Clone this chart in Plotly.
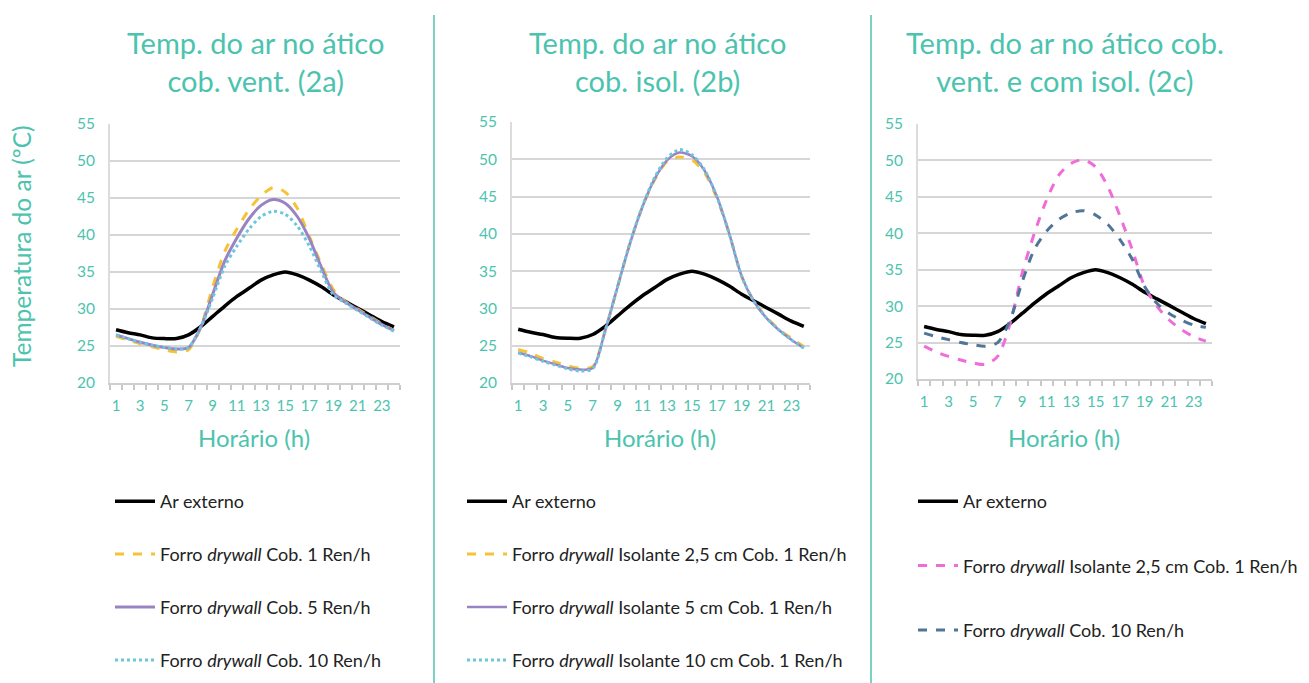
import plotly.graph_objects as go

W, H = 1309, 683
OFF = 8  # page body margin
TEAL = "#4CC3AE"
FONT = "Lato"


def px(x):
    return (x - OFF) / W


def py(y):
    return 1 - (y - OFF) / H


hours = list(range(1, 25))
xtick_vals = list(range(1, 24, 2))
xtick_text = [str(v) for v in xtick_vals]
ytick_vals = [20, 25, 30, 35, 40, 45, 50, 55]

ar_externo = [27.2, 26.8, 26.5, 26.1, 26.0, 26.0, 26.5, 27.6, 29.0, 30.4, 31.7, 32.8,
              33.9, 34.6, 35.0, 34.6, 33.9, 33.0, 31.9, 31.0, 30.1, 29.2, 28.3, 27.6]

# Panel 2a
a_cob1 = [26.3, 25.8, 25.3, 24.9, 24.5, 24.2, 24.5, 27.5, 33.0, 37.8, 40.8, 43.4,
          45.3, 46.4, 45.8, 43.6, 39.8, 36.0, 32.6, 31.0, 30.0, 29.0, 28.0, 27.1]
a_cob5 = [26.5, 26.0, 25.5, 25.1, 24.8, 24.6, 24.8, 27.5, 32.0, 36.5, 39.6, 42.2,
          44.0, 44.8, 44.3, 42.5, 39.5, 35.6, 32.2, 30.9, 29.9, 28.9, 27.9, 27.1]
a_cob10 = [26.5, 26.0, 25.5, 25.1, 24.8, 24.6, 24.8, 27.5, 31.5, 35.8, 38.5, 40.8,
           42.5, 43.2, 42.8, 41.2, 38.5, 35.0, 31.9, 30.8, 29.8, 28.8, 27.8, 27.0]

# Panel 2b
b_iso25 = [24.5, 24.0, 23.3, 22.8, 22.3, 22.0, 22.2, 27.0, 32.9, 38.7, 43.6, 47.3,
           49.7, 50.3, 49.9, 48.2, 44.8, 40.0, 34.3, 30.9, 28.8, 27.2, 26.0, 24.9]
b_iso5 = [24.1, 23.6, 23.0, 22.5, 22.0, 21.8, 22.0, 27.0, 32.9, 38.7, 43.6, 47.4,
          49.9, 50.9, 50.4, 48.5, 45.0, 40.0, 34.3, 30.9, 28.7, 27.1, 25.8, 24.7]
b_iso10 = [24.0, 23.5, 22.9, 22.4, 21.9, 21.6, 21.9, 27.0, 32.9, 38.8, 43.7, 47.6,
           50.2, 51.3, 50.6, 48.6, 45.0, 40.0, 34.3, 30.9, 28.7, 27.1, 25.8, 24.7]

# Panel 2c
c_iso25 = [24.5, 23.7, 23.1, 22.6, 22.2, 22.0, 23.1, 27.5, 34.5, 40.0, 44.6, 48.0,
           49.6, 50.1, 49.1, 46.4, 42.3, 37.7, 32.7, 30.0, 28.1, 26.8, 25.8, 25.2]
c_cob10 = [26.3, 25.8, 25.4, 25.0, 24.7, 24.5, 25.0, 28.0, 33.3, 37.8, 40.3, 41.9,
           42.8, 43.1, 42.5, 41.2, 39.1, 36.4, 32.7, 30.4, 29.0, 28.1, 27.4, 27.1]

panels = [
    dict(title="Temp. do ar no ático<br>cob. vent. (2a)", cx=255,
         xpx=(110, 400), ypx=(124, 383), legend="legend", lx=110, ly=483, gap=26.5,
         series=[
             ("Ar externo", ar_externo, "#000000", "solid", 3.5),
             ("Forro <i>drywall</i> Cob. 1 Ren/h", a_cob1, "#F7C236", "dash", 3),
             ("Forro <i>drywall</i> Cob. 5 Ren/h", a_cob5, "#9A83C2", "solid", 3),
             ("Forro <i>drywall</i> Cob. 10 Ren/h", a_cob10, "#6EC6DD", "dot", 3),
         ]),
    dict(title="Temp. do ar no ático<br>cob. isol. (2b)", cx=657,
         xpx=(512, 810), ypx=(122, 383), legend="legend2", lx=462, ly=483, gap=26.5,
         series=[
             ("Ar externo", ar_externo, "#000000", "solid", 3.5),
             ("Forro <i>drywall</i> Isolante 2,5 cm Cob. 1 Ren/h", b_iso25, "#F7C236", "dash", 3),
             ("Forro <i>drywall</i> Isolante 5 cm Cob. 1 Ren/h", b_iso5, "#9A83C2", "solid", 2.5),
             ("Forro <i>drywall</i> Isolante 10 cm Cob. 1 Ren/h", b_iso10, "#6EC6DD", "dot", 3),
         ]),
    dict(title="Temp. do ar no ático cob.<br>vent. e com isol. (2c)", cx=1065,
         xpx=(918, 1212), ypx=(124, 379), legend="legend3", lx=913, ly=483, gap=38,
         series=[
             ("Ar externo", ar_externo, "#000000", "solid", 3.5),
             ("Forro <i>drywall</i> Isolante 2,5 cm Cob. 1 Ren/h", c_iso25, "#F06CD8", "dash", 3),
             ("Forro <i>drywall</i> Cob. 10 Ren/h", c_cob10, "#4F7699", "dash", 3),
         ]),
]

fig = go.Figure()
layout = dict(
    width=W, height=H, margin=dict(l=0, r=0, t=0, b=0, autoexpand=False),
    paper_bgcolor="white", plot_bgcolor="white",
    font=dict(family=FONT, color="#222222"),
    showlegend=True,
)
annotations = []
shapes = []

for i, p in enumerate(panels):
    n = "" if i == 0 else str(i + 1)
    xa, ya = "x" + n, "y" + n
    for j, (name, vals, color, dash, width) in enumerate(p["series"]):
        fig.add_trace(go.Scatter(
            x=hours, y=vals, mode="lines", name=name,
            line=dict(color=color, dash=dash, width=width, shape="spline", smoothing=0.8),
            xaxis=xa, yaxis=ya, legend=p["legend"],
            legendgroup=f"g{i}_{j}",
        ))
    x0, x1 = p["xpx"]
    y0, y1 = p["ypx"]
    layout["xaxis" + n] = dict(
        domain=[px(x0), px(x1)], range=[0.5, 24.5], anchor=ya,
        tickvals=xtick_vals, ticktext=xtick_text, ticks="",
        tickfont=dict(family=FONT, size=15, color=TEAL),
        showgrid=False, zeroline=False, showline=True, linecolor="#cfcfcf", linewidth=2,
        minor=dict(tickvals=[k + 0.5 for k in range(0, 25)], ticks="outside",
                   ticklen=5, tickcolor="#c8c8c8", tickwidth=2, showgrid=False),
        ticklabelstandoff=8,
        fixedrange=True, automargin=False,
    )
    layout["yaxis" + n] = dict(
        domain=[py(y1), py(y0)], range=[20, 55], anchor=xa,
        tickvals=ytick_vals, ticks="",
        tickfont=dict(family=FONT, size=15.5, color=TEAL),
        showgrid=True, gridcolor="#d6d6d6", gridwidth=2,
        zeroline=False, showline=True, linecolor="#dcdcdc", linewidth=2,
        ticklabelstandoff=10,
        fixedrange=True, automargin=False,
    )
    layout[p["legend"]] = dict(
        x=px(p["lx"]), y=py(p["ly"]), xanchor="left", yanchor="top",
        font=dict(family=FONT, size=18, color="#222222"),
        bgcolor="rgba(0,0,0,0)", tracegroupgap=p["gap"], itemwidth=40,
        orientation="v",
    )
    annotations.append(dict(
        text=p["title"], x=px(p["cx"]), y=py(62), xref="paper", yref="paper",
        xanchor="center", yanchor="middle", showarrow=False,
        font=dict(family=FONT, size=29, color=TEAL), align="center",
    ))
    annotations.append(dict(
        text="Horário (h)", x=px((x0 + x1) / 2 - 1), y=py(437), xref="paper", yref="paper",
        xanchor="center", yanchor="middle", showarrow=False,
        font=dict(family=FONT, size=24, color=TEAL),
    ))

annotations.append(dict(
    text="Temperatura do ar (ºC)", x=px(22), y=py(246), xref="paper", yref="paper",
    xanchor="center", yanchor="middle", showarrow=False, textangle=-90,
    font=dict(family=FONT, size=24.5, color=TEAL),
))

for sx in (434, 871):
    shapes.append(dict(type="line", xref="paper", yref="paper",
                       x0=px(sx), x1=px(sx), y0=0, y1=py(15),
                       line=dict(color=TEAL, width=1.5)))

layout["annotations"] = annotations
layout["shapes"] = shapes
fig.update_layout(**layout)
fig.write_html("out.html")
